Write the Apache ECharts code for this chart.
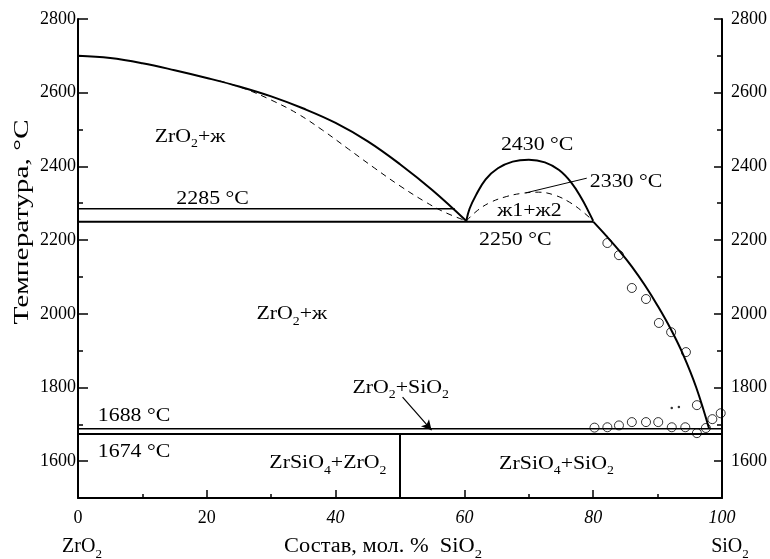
<!DOCTYPE html>
<html><head><meta charset="utf-8">
<script src="https://cdn.jsdelivr.net/npm/echarts@6/dist/echarts.min.js"></script>
<style>html,body{margin:0;padding:0;background:#fff}#c{width:770px;height:559px}</style>
</head><body><div id="c"></div>
<script>
// ---- data (x = mol. % SiO2, y = temperature °C) ----
const xTicks = [0, 20, 40, 60, 80, 100];
const yMajorTicks = [1600, 1800, 2000, 2200, 2400, 2600, 2800];
const yMinorTicks = [1700, 1900, 2100, 2300, 2500, 2700];

const liquidusZrO2 = [[0,2700],[5,2694],[10,2680],[15,2661],[20,2640],[25,2617],[30,2590],[35,2557],[40,2518],[45,2468],[50,2406],[55,2336],[60.3,2252]];
const liquidusZrO2Calc = [[22,2632],[26,2610],[30,2580],[34,2544],[38,2498],[42,2447],[46,2396],[50,2347],[54,2303],[57,2275],[60.3,2252]];
const domeSolid = [[60.3,2252],[60.8,2285],[61.8,2322],[63.3,2365],[65.2,2395],[67.5,2413],[70,2418],[72.5,2411],[74.7,2390],[76.6,2356],[78.2,2313],[79.2,2280],[80,2252]];
const domeCalc = [[60.3,2252],[62,2280],[64,2302],[66.5,2318],[69,2327],[71.5,2330],[74,2322],[76.3,2303],[78.3,2278],[80,2252]];
const liquidusSiO2 = [[80,2250],[82,2212],[84,2172],[86,2128],[88,2078],[90,2022],[92,1960],[94,1888],[96,1800],[98,1688]];
const iso2285 = [[0,2285],[58.5,2285]];
const iso2250 = [[0,2250],[80,2250]];
const iso1688 = [[0,1688],[100,1688]];
const iso1674 = [[0,1674],[100,1674]];
const zircon50 = [[50,1500],[50,1674]];
const expPoints = [[82.2,2192],[84,2159],[86,2070],[88.2,2040],[90.2,1975],[92.1,1950],[94.4,1896],[96.1,1752],[98.5,1714],[99.8,1730],
  [80.2,1691],[82.2,1692],[84,1697],[86,1706],[88.2,1706],[90.1,1706],[92.2,1692],[94.3,1692],[96.1,1676],[97.5,1690]];
const expDots = [[92.2,1744],[93.3,1747]];
const leader2330 = [[69.5,2328],[79,2368]];
const arrowZrO2SiO2 = [[50.4,1774],[54.9,1684]];

const annotations = [
  {text:'{n|ZrO}{s|2}{n|+ж}', at:[17.4,2479]},
  {text:'{n|2285 °C}', at:[20.9,2312]},
  {text:'{n|2250 °C}', at:[67.9,2200]},
  {text:'{n|2430 °C}', at:[71.3,2458]},
  {text:'{n|2330 °C}', at:[85.1,2357]},
  {text:'{n|ж1+ж2}', at:[70.1,2280]},
  {text:'{n|ZrO}{s|2}{n|+ж}', at:[33.2,1998]},
  {text:'{n|ZrO}{s|2}{n|+SiO}{s|2}', at:[50.1,1798]},
  {text:'{n|1688 °C}', at:[8.7,1722]},
  {text:'{n|1674 °C}', at:[8.7,1624]},
  {text:'{n|ZrSiO}{s|4}{n|+ZrO}{s|2}', at:[38.8,1594]},
  {text:'{n|ZrSiO}{s|4}{n|+SiO}{s|2}', at:[74.3,1592]}
];

const FONT = '"Liberation Serif","Times New Roman",serif';
const rich = {
  n:{fontFamily:FONT,fontSize:19,fill:'#000',lineHeight:26,verticalAlign:'middle'},
  s:{fontFamily:FONT,fontSize:12,fill:'#000',lineHeight:26,verticalAlign:'bottom'}
};
const richBig = {
  n:{fontFamily:FONT,fontSize:20,fill:'#000',lineHeight:28,verticalAlign:'middle'},
  s:{fontFamily:FONT,fontSize:13,fill:'#000',lineHeight:28,verticalAlign:'bottom'}
};

function lineSeries(data, opts) {
  return Object.assign({
    type:'line', data, symbol:'none', silent:true, animation:false,
    lineStyle:{color:'#000', width:2}
  }, opts || {});
}

const chart = echarts.init(document.getElementById('c'), null, {renderer:'canvas'});
const axisCommon = {
  type:'value', min:1500, max:2800, interval:100, splitLine:{show:false}
};
const yLabel = {fontFamily:FONT, fontSize:18, color:'#000', formatter: v => String(v)};
chart.setOption({
  animation:false,
  backgroundColor:'#fff',
  grid:{left:78, right:47, top:19, bottom:61, containLabel:false},
  xAxis:{
    type:'value', min:0, max:100, interval:20,
    axisLine:{lineStyle:{color:'#000', width:2}},
    axisTick:{inside:true, length:8, lineStyle:{color:'#000', width:1.5}},
    minorTick:{show:true, splitNumber:2, length:4, lineStyle:{color:'#000', width:1.5}},
    splitLine:{show:false},
    axisLabel:{margin:11, fontFamily:FONT, fontSize:18, color:'#000',
      formatter: v => (v >= 40 ? '{i|' + v + '}' : '{u|' + v + '}'),
      rich:{i:{fontFamily:FONT,fontSize:18,fontStyle:'italic',color:'#000'}, u:{fontFamily:FONT,fontSize:18,color:'#000'}}}
  },
  yAxis:[
    Object.assign({}, axisCommon, {position:'left',
      axisLine:{show:true, lineStyle:{color:'#000', width:2}},
      axisTick:{show:true, inside:true, length:10, customValues:yMajorTicks, lineStyle:{color:'#000', width:1.5}},
      axisLabel:Object.assign({show:true, margin:2, customValues:yMajorTicks}, yLabel)}),
    Object.assign({}, axisCommon, {position:'left',
      axisLine:{show:false},
      axisTick:{show:true, inside:true, length:5, customValues:yMinorTicks, lineStyle:{color:'#000', width:1.5}},
      axisLabel:{show:false}}),
    Object.assign({}, axisCommon, {position:'right',
      axisLine:{show:true, lineStyle:{color:'#000', width:2}},
      axisTick:{show:true, inside:true, length:8, customValues:yMajorTicks, lineStyle:{color:'#000', width:1.5}},
      axisLabel:Object.assign({show:true, margin:9, customValues:yMajorTicks}, yLabel)}),
    Object.assign({}, axisCommon, {position:'right',
      axisLine:{show:false},
      axisTick:{show:true, inside:true, length:5, customValues:yMinorTicks, lineStyle:{color:'#000', width:1.5}},
      axisLabel:{show:false}})
  ],
  series:[
    lineSeries(liquidusZrO2, {smooth:0.4, lineStyle:{color:'#000', width:2}}),
    lineSeries(liquidusZrO2Calc, {smooth:0.4, lineStyle:{color:'#000', width:1, type:[6,5]}}),
    lineSeries(domeSolid, {smooth:0.4, lineStyle:{color:'#000', width:2}}),
    lineSeries(domeCalc, {smooth:0.4, lineStyle:{color:'#000', width:1, type:[6,5]}}),
    lineSeries(liquidusSiO2, {smooth:0.4, lineStyle:{color:'#000', width:2}}),
    lineSeries(iso2285, {lineStyle:{color:'#000', width:1.3}}),
    lineSeries(iso2250, {lineStyle:{color:'#000', width:2}}),
    lineSeries(iso1688, {lineStyle:{color:'#000', width:1.4}}),
    lineSeries(iso1674, {lineStyle:{color:'#000', width:2}}),
    lineSeries(zircon50, {lineStyle:{color:'#000', width:2}}),
    lineSeries(leader2330, {lineStyle:{color:'#000', width:1}}),
    {type:'scatter', data:expPoints, symbol:'circle', symbolSize:9, silent:true,
      itemStyle:{color:'rgba(255,255,255,0)', borderColor:'#000', borderWidth:1}},
    {type:'scatter', data:expDots, symbol:'circle', symbolSize:2.5, silent:true, itemStyle:{color:'#000'}},
    {type:'line', data:[], silent:true,
      markLine:{silent:true, symbol:['none','arrow'], symbolSize:[8,10], label:{show:false},
        lineStyle:{color:'#000', width:1.2, type:'solid'},
        data:[[{coord:arrowZrO2SiO2[0]},{coord:arrowZrO2SiO2[1]}]]}}
  ]
});

// text annotations placed through the chart's own scales
const annGraphics = annotations.map(a => {
  const p = chart.convertToPixel({xAxisIndex:0, yAxisIndex:0}, a.at);
  return {type:'text', x:p[0], y:p[1], scaleX:1.15, silent:true,
    style:{text:a.text, rich:rich, align:'center', verticalAlign:'middle'}};
});
chart.setOption({
  graphic: annGraphics.concat([
    {type:'text', x:22, y:222, rotation:Math.PI/2, scaleX:1.4, silent:true,
      style:{text:'Температура, °C', font:'21px ' + FONT, fill:'#000', align:'center', verticalAlign:'middle'}},
    {type:'text', x:383, y:547, scaleX:1.12, silent:true,
      style:{text:'{n|Состав, мол. %  SiO}{s|2}', rich:richBig, align:'center', verticalAlign:'middle'}},
    {type:'text', x:82, y:547, silent:true,
      style:{text:'{n|ZrO}{s|2}', rich:richBig, align:'center', verticalAlign:'middle'}},
    {type:'text', x:730, y:547, silent:true,
      style:{text:'{n|SiO}{s|2}', rich:richBig, align:'center', verticalAlign:'middle'}}
  ])
});
</script>
</body></html>
